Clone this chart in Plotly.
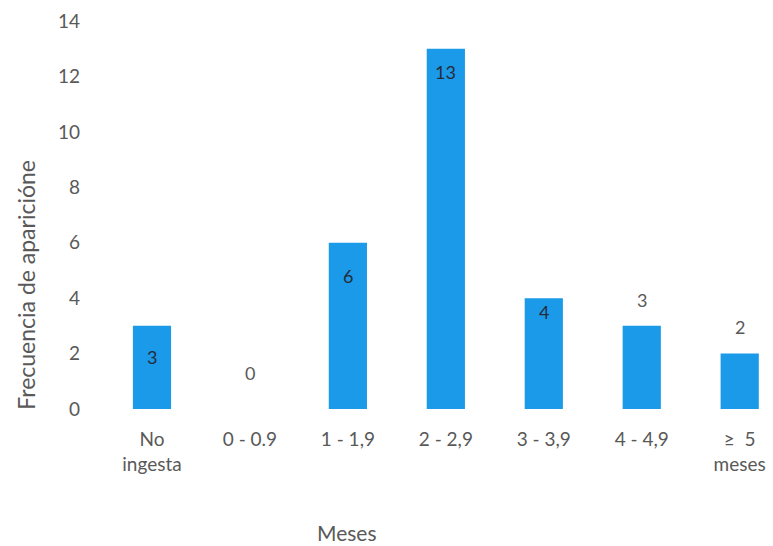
import plotly.graph_objects as go

# Frecuencia de aparición por rango de meses
categorias = ["No<br>ingesta", "0 - 0.9", "1 - 1,9", "2 - 2,9", "3 - 3,9", "4 - 4,9", "≥  5<br>meses"]
frecuencia = [3, 0, 6, 13, 4, 3, 2]
# desplazamiento vertical de cada etiqueta respecto al extremo de la barra (px)
desplaz_etiqueta = [-31, 36, -33, -23, -14, 26, 27]
etiqueta_dentro = [True, False, True, True, True, False, False]

FONT = "Lato, 'Open Sans', sans-serif"
GRIS = "#595959"
AZUL = "#1a9ae8"

x_idx = list(range(len(categorias)))

fig = go.Figure()
fig.add_trace(go.Bar(
    x=x_idx,
    y=frecuencia,
    width=0.39,
    marker=dict(color=AZUL, line=dict(width=0)),
    hoverinfo="skip",
))

for i, v in enumerate(frecuencia):
    fig.add_annotation(
        x=i, y=v, yref="y", xref="x",
        text=str(v), showarrow=False,
        yshift=desplaz_etiqueta[i],
        font=dict(family=FONT, size=18, color="#262b3a" if etiqueta_dentro[i] else GRIS),
    )

fig.add_annotation(
    text="Frecuencia de aparicióne", textangle=-90,
    xref="paper", yref="paper", x=-0.115, y=0.32, xanchor="center", yanchor="middle",
    showarrow=False, font=dict(family=FONT, size=23, color=GRIS),
)
fig.add_annotation(
    text="Meses", xref="x", yref="paper", x=1.99, y=-0.318,
    xanchor="center", yanchor="middle", showarrow=False,
    font=dict(family=FONT, size=21, color=GRIS),
)

fig.update_xaxes(
    range=[-0.5, 6.34],
    tickmode="array", tickvals=x_idx, ticktext=categorias,
    tickfont=dict(family=FONT, size=19, color=GRIS),
    showgrid=False, zeroline=False, showline=False, ticks="",
    ticklabelstandoff=17,
)
fig.update_yaxes(
    range=[0, 14], dtick=2,
    tickfont=dict(family=FONT, size=19, color=GRIS),
    showgrid=False, zeroline=False, showline=False, ticks="",
    ticklabelstandoff=22,
)
fig.update_layout(
    width=773, height=546,
    margin=dict(l=103, r=0, t=21, b=137),
    paper_bgcolor="white", plot_bgcolor="white",
    showlegend=False,
)

fig.write_html("out.html")
